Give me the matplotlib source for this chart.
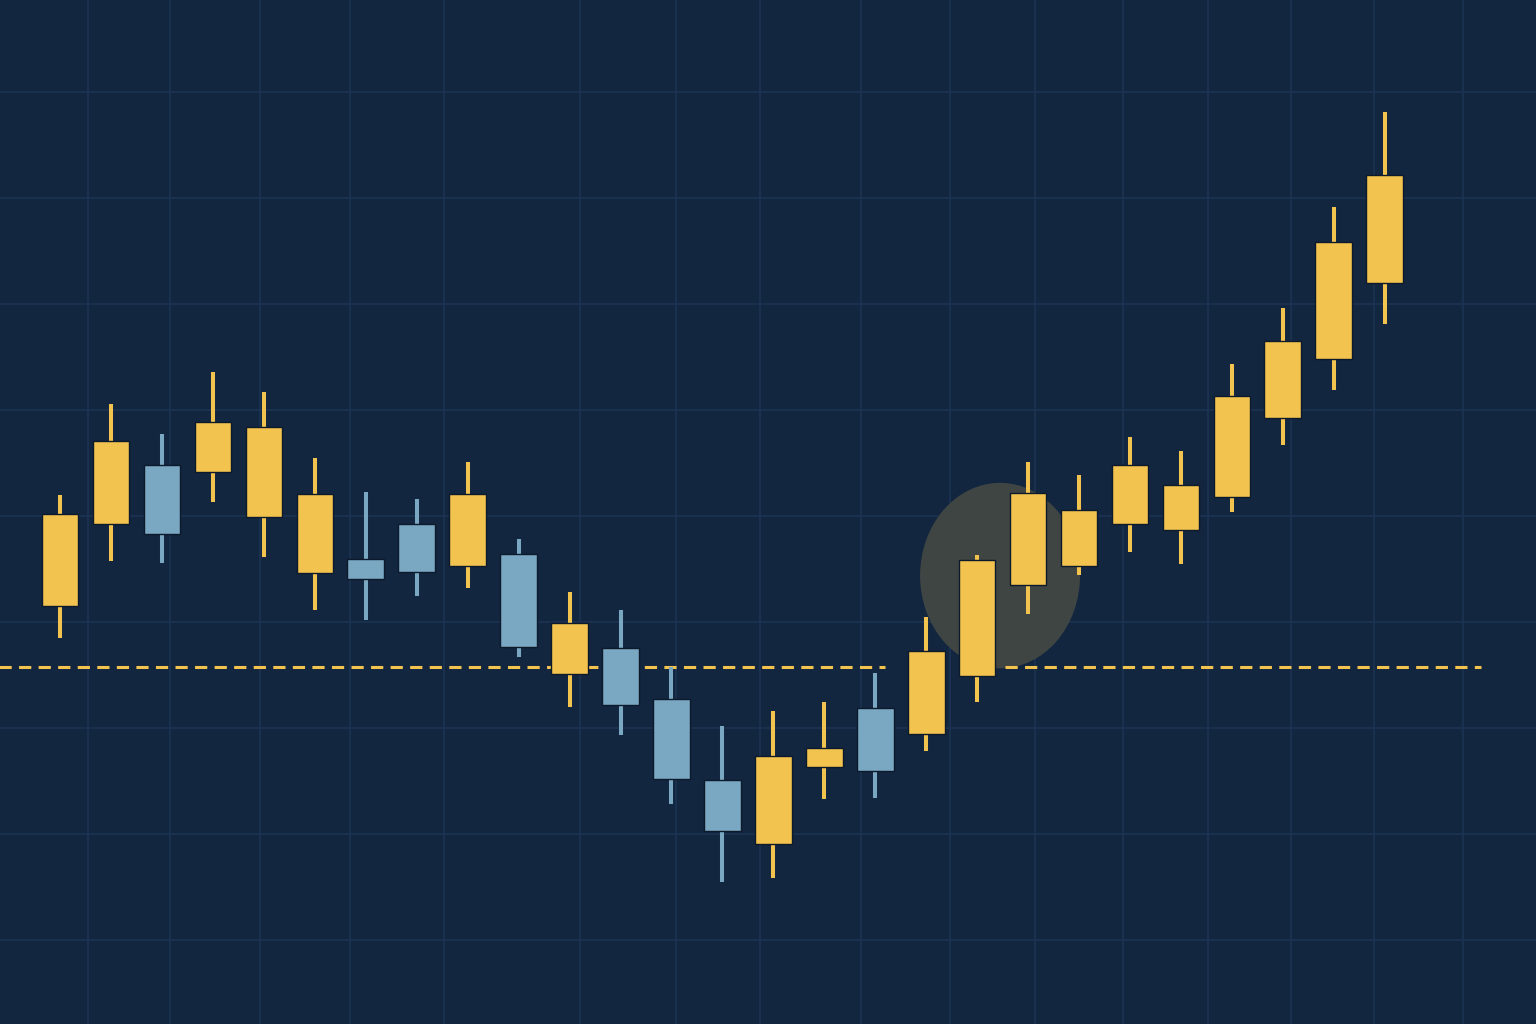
import matplotlib
matplotlib.use("Agg")
from matplotlib import pyplot as plt
from matplotlib.patches import Ellipse
import numpy as np

# candle data (open, high, low, close)
opens = [131.5, 139.3, 144.8, 144.2, 139.9, 134.6, 136.0, 139.3, 135.3,
         136.4, 125.1, 127.6, 122.8, 115.1, 109.1, 116.3, 121.9, 119.5,
         124.9, 133.5, 135.3, 139.3, 138.7, 141.8, 149.3, 154.8, 162.0]
highs = [142.0, 150.6, 147.8, 153.6, 151.7, 145.5, 142.3, 141.6, 145.1,
         137.9, 132.9, 131.2, 125.8, 120.2, 121.6, 122.5, 125.2, 130.5,
         136.3, 145.1, 143.9, 147.5, 146.2, 154.4, 159.6, 169.2, 178.1]
lows = [128.5, 135.8, 135.6, 141.3, 136.2, 131.2, 130.2, 132.5, 133.2,
        126.7, 122.0, 119.4, 112.9, 105.5, 105.9, 113.3, 113.4, 117.9,
        122.5, 130.8, 134.5, 136.6, 135.5, 140.4, 146.7, 151.9, 158.1]
closes = [140.2, 147.1, 138.3, 148.9, 148.4, 142.1, 134.1, 134.7, 142.1,
          127.7, 129.9, 122.2, 115.2, 110.3, 117.4, 118.1, 116.0, 127.3,
          135.9, 142.2, 140.6, 144.8, 142.9, 151.3, 156.5, 165.9, 172.2]
support = 125.8

bg = '#13263f'
grid_col = '#1b3251'
up_col = '#f3c34f'
down_col = '#7aa7c2'
halo_col = '#3f4543'

fig = plt.figure(figsize=(15.36, 10.24), dpi=100, facecolor=bg)
ax = fig.add_axes([0, 0, 1, 1])
ax.set_facecolor(bg)

x = np.arange(len(opens))
colors = [up_col if c >= o else down_col for o, c in zip(opens, closes)]

# grid (the vertical lines are not evenly spaced in the picture)
x0, x1 = -1.18, 28.97
ax.set_xlim(x0, x1)
ax.set_ylim(92.1, 188.7)
vgrid_px = np.array([88, 170, 260, 350, 444, 580, 676, 760, 861, 950,
                     1035, 1123, 1208, 1291, 1374, 1463])
ax.set_xticks(x0 + vgrid_px / 1536 * (x1 - x0))
ax.set_yticks(np.arange(100, 190, 10))
ax.grid(True, color=grid_col, lw=1.3)
ax.tick_params(length=0, labelbottom=False, labelleft=False)
for s in ax.spines.values():
    s.set_visible(False)

# highlight around the breakout (covers the grid)
ax.add_patch(Ellipse((18.45, 134.4), 3.14, 17.5, facecolor=halo_col,
                     edgecolor='none', zorder=1.8))

# support line
ax.hlines(support, -1.2, 16.2, colors=up_col, lw=2.2,
          linestyles=(0, (4, 2.4)), zorder=2)
ax.hlines(support, 18.55, 27.9, colors=up_col, lw=2.2,
          linestyles=(0, (4, 2.4)), zorder=2)

# wicks and bodies
ax.vlines(x, lows, highs, colors=colors, lw=2.9, zorder=3)
bottoms = np.minimum(opens, closes)
heights = np.abs(np.array(closes) - np.array(opens))
ax.bar(x, heights, bottom=bottoms, width=0.72, color=colors,
       edgecolor='#0d1a2c', linewidth=1.0, zorder=4)

fig.savefig('out.png', dpi=100, facecolor=bg)
